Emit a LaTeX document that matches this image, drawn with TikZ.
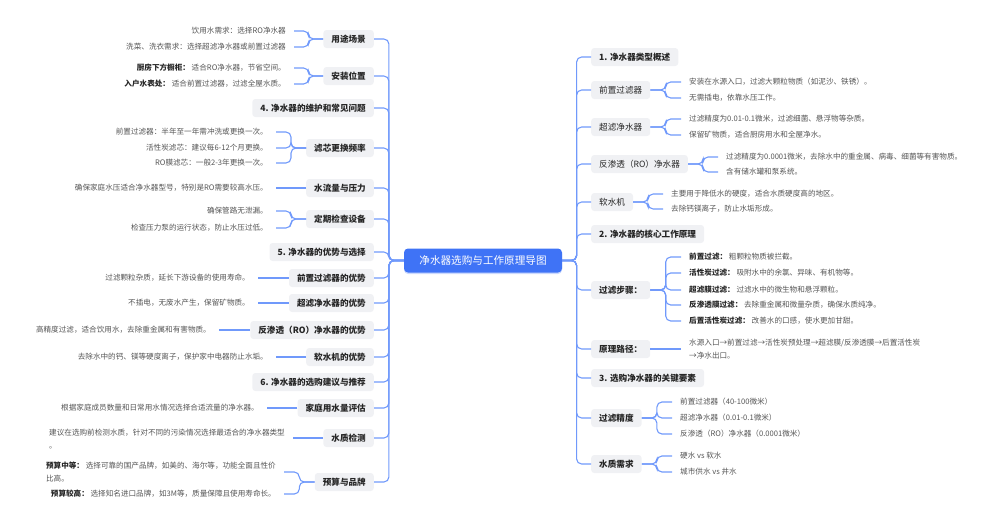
\documentclass[tikz,border=0pt]{standalone}
\usepackage{fontspec}
\setmainfont{Noto Sans CJK SC}
\usepackage{tikz}
\usetikzlibrary{
    calc,
    shadows
}
\usepackage{xcolor}

\definecolor{linkblue}{HTML}{7099FB}
\definecolor{rootblue}{HTML}{3F73F6}
\definecolor{topicgray}{HTML}{F0F1F4}
\definecolor{textdark}{HTML}{262626}
\definecolor{textgray}{HTML}{555555}

\newcommand{\lbl}[1]{\textcolor{textdark}{\bfseries #1}}

\begin{document}
\begin{tikzpicture}[
        x=1pt, y=-1pt,
        root/.style={
            fill=rootblue, text=white, rounded corners=4pt,
            minimum width=158pt, minimum height=24pt,
            font=\fontsize{10.6}{12}\selectfont,
            drop shadow={fill=rootblue!45, opacity=.6, shadow xshift=0pt, shadow yshift=-1.5pt}
        },
        topic/.style={
            fill=topicgray, text=textdark, rounded corners=3pt,
            minimum height=18pt, inner xsep=8pt, inner ysep=3pt,
            font=\fontsize{8.6}{10}\selectfont\bfseries
        },
        subtopic/.style={
            topic,
            font=\fontsize{8.6}{10}\selectfont
        },
        leaf/.style={
            text=textgray, inner xsep=8pt, inner ysep=2pt, align=left,
            font=\fontsize{7.6}{12.8}\selectfont
        },
        link/.style={
            draw=linkblue, line width=1.1pt, rounded corners=5pt
        },
        elbow/.style={
            to path={let \p1=(\tikztostart), \p2=(\tikztotarget) in
                -- ({(\x1+\x2)/2},\y1) |- (\tikztotarget)}
        }
    ]

    \useasboundingbox (0,0) rectangle (1000,525);

    \node[root] (root) at (483,260.5) {净水器选购与工作原理导图};

    % left branches
    \node[topic, anchor=east] (L1) at (374,39) {用途场景};
    \node[topic, anchor=east] (L2) at (374,76) {安装位置};
    \node[topic, anchor=east] (L3) at (374,108) {4. 净水器的维护和常见问题};
    \node[topic, anchor=east] (L4) at (374,148) {滤芯更换频率};
    \node[topic, anchor=east] (L5) at (374,188) {水流量与压力};
    \node[topic, anchor=east] (L6) at (374,219) {定期检查设备};
    \node[topic, anchor=east] (L7) at (374,252) {5. 净水器的优势与选择};
    \node[topic, anchor=east] (L8) at (374,278) {前置过滤器的优势};
    \node[topic, anchor=east] (L9) at (374,303) {超滤净水器的优势};
    \node[topic, anchor=east] (L10) at (374,330) {反渗透（RO）净水器的优势};
    \node[topic, anchor=east] (L11) at (374,357) {软水机的优势};
    \node[topic, anchor=east] (L12) at (374,382) {6. 净水器的选购建议与推荐};
    \node[topic, anchor=east] (L13) at (374,408) {家庭用水量评估};
    \node[topic, anchor=east] (L14) at (374,438) {水质检测};
    \node[topic, anchor=east] (L15) at (374,482) {预算与品牌};

    \node[leaf, anchor=east] (l1a) at (294,31) {饮用水需求：选择RO净水器};
    \node[leaf, anchor=east] (l1b) at (294,47) {洗菜、洗衣需求：选择超滤净水器或前置过滤器};
    \node[leaf, anchor=east] (l2a) at (294,68) {\lbl{厨房下方橱柜：} 适合RO净水器，节省空间。};
    \node[leaf, anchor=east] (l2b) at (294,84) {\lbl{入户水表处：} 适合前置过滤器，过滤全屋水质。};
    \node[leaf, anchor=east] (l4a) at (276,132) {前置过滤器：半年至一年需冲洗或更换一次。};
    \node[leaf, anchor=east] (l4b) at (276,148) {活性炭滤芯：建议每6-12个月更换。};
    \node[leaf, anchor=east] (l4c) at (276,163) {RO膜滤芯：一般2-3年更换一次。};
    \node[leaf, anchor=east] (l5a) at (276,188) {确保家庭水压适合净水器型号，特别是RO需要较高水压。};
    \node[leaf, anchor=east] (l6a) at (276,211) {确保管路无泄漏。};
    \node[leaf, anchor=east] (l6b) at (276,228) {检查压力泵的运行状态，防止水压过低。};
    \node[leaf, anchor=east] (l8a) at (258,278) {过滤颗粒杂质，延长下游设备的使用寿命。};
    \node[leaf, anchor=east] (l9a) at (258,303) {不插电，无废水产生，保留矿物质。};
    \node[leaf, anchor=east] (l10a) at (219,330) {高精度过滤，适合饮用水，去除重金属和有害物质。};
    \node[leaf, anchor=east] (l11a) at (276,357) {去除水中的钙、镁等硬度离子，保护家中电器防止水垢。};
    \node[leaf, anchor=east] (l13a) at (267,408) {根据家庭成员数量和日常用水情况选择合适流量的净水器。};
    \node[leaf, anchor=east] (l14a) at (293,439) {建议在选购前检测水质，针对不同的污染情况选择最适合的净水器类型\\。};
    \node[leaf, anchor=east] (l15a) at (284,472) {\lbl{预算中等：} 选择可靠的国产品牌，如美的、海尔等，功能全面且性价\\比高。};
    \node[leaf, anchor=east] (l15b) at (284,494) {\lbl{预算较高：} 选择知名进口品牌，如3M等，质量保障且使用寿命长。};

    % right branches
    \node[topic, anchor=west] (R1) at (591,57) {1. 净水器类型概述};
    \node[subtopic, anchor=west] (R2) at (591,90) {前置过滤器};
    \node[subtopic, anchor=west] (R3) at (591,127) {超滤净水器};
    \node[subtopic, anchor=west] (R4) at (591,164) {反渗透（RO）净水器};
    \node[subtopic, anchor=west] (R5) at (591,202) {软水机};
    \node[topic, anchor=west] (R6) at (591,234) {2. 净水器的核心工作原理};
    \node[topic, anchor=west] (R7) at (591,290) {过滤步骤：};
    \node[topic, anchor=west] (R8) at (591,349) {原理路径：};
    \node[topic, anchor=west] (R9) at (591,378) {3. 选购净水器的关键要素};
    \node[topic, anchor=west] (R10) at (591,418) {过滤精度};
    \node[topic, anchor=west] (R11) at (591,464) {水质需求};

    \node[leaf, anchor=west] (r2a) at (681,82) {安装在水源入口，过滤大颗粒物质（如泥沙、铁锈）。};
    \node[leaf, anchor=west] (r2b) at (681,98) {无需插电，依靠水压工作。};
    \node[leaf, anchor=west] (r3a) at (681,119) {过滤精度为0.01-0.1微米，过滤细菌、悬浮物等杂质。};
    \node[leaf, anchor=west] (r3b) at (681,135) {保留矿物质，适合厨房用水和全屋净水。};
    \node[leaf, anchor=west] (r4a) at (718,157) {过滤精度为0.0001微米，去除水中的重金属、病毒、细菌等有害物质。};
    \node[leaf, anchor=west] (r4b) at (718,172) {含有储水罐和泵系统。};
    \node[leaf, anchor=west] (r5a) at (663,194) {主要用于降低水的硬度，适合水质硬度高的地区。};
    \node[leaf, anchor=west] (r5b) at (663,209) {去除钙镁离子，防止水垢形成。};
    \node[leaf, anchor=west] (r7a) at (681,257) {\lbl{前置过滤：} 粗颗粒物质被拦截。};
    \node[leaf, anchor=west] (r7b) at (681,273) {\lbl{活性炭过滤：} 吸附水中的余氯、异味、有机物等。};
    \node[leaf, anchor=west] (r7c) at (681,290) {\lbl{超滤膜过滤：} 过滤水中的微生物和悬浮颗粒。};
    \node[leaf, anchor=west] (r7d) at (681,305) {\lbl{反渗透膜过滤：} 去除重金属和微量杂质，确保水质纯净。};
    \node[leaf, anchor=west] (r7e) at (681,321) {\lbl{后置活性炭过滤：} 改善水的口感，使水更加甘甜。};
    \node[leaf, anchor=west] (r8a) at (681,349) {水源入口→前置过滤→活性炭预处理→超滤膜/反渗透膜→后置活性炭\\→净水出口。};
    \node[leaf, anchor=west] (r10a) at (672,402) {前置过滤器（40-100微米）};
    \node[leaf, anchor=west] (r10b) at (672,418) {超滤净水器（0.01-0.1微米）};
    \node[leaf, anchor=west] (r10c) at (672,434) {反渗透（RO）净水器（0.0001微米）};
    \node[leaf, anchor=west] (r11a) at (672,456) {硬水 vs 软水};
    \node[leaf, anchor=west] (r11b) at (672,472) {城市供水 vs 井水};

    % connectors
    \foreach \i in {1,...,15}
        \draw[link] (root.west) to[elbow] (L\i.east);
    \foreach \i in {1,...,11}
        \draw[link] (root.east) to[elbow] (R\i.west);

    \foreach \p/\c in {L1/l1a, L1/l1b, L2/l2a, L2/l2b, L4/l4a, L4/l4b, L4/l4c,
                       L6/l6a, L6/l6b, L15/l15a, L15/l15b}
        \draw[link] (\p.west) to[elbow] (\c.east);
    \foreach \p/\c in {R2/r2a, R2/r2b, R3/r3a, R3/r3b, R4/r4a, R4/r4b, R5/r5a, R5/r5b,
                       R7/r7a, R7/r7b, R7/r7c, R7/r7d, R7/r7e,
                       R10/r10a, R10/r10b, R10/r10c, R11/r11a, R11/r11b}
        \draw[link] (\p.east) to[elbow] (\c.west);

    % single children: straight
    \foreach \p/\c in {L5/l5a, L8/l8a, L9/l9a, L10/l10a, L11/l11a, L13/l13a, L14/l14a}
        \draw[link] (\p.west) -- (\c.east |- \p.west);
    \draw[link] (R8.east) -- (r8a.west |- R8.east);

\end{tikzpicture}
\end{document}
